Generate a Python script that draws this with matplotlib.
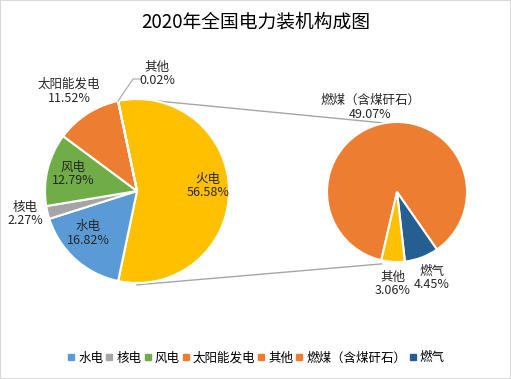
import numpy as np
import matplotlib
matplotlib.use("Agg")
import matplotlib.pyplot as plt
from matplotlib.lines import Line2D
from matplotlib.patches import Rectangle

plt.rcParams['font.family'] = ['Noto Sans CJK SC', 'DejaVu Sans']

# ---- data ----
title = "2020年全国电力装机构成图"
main_labels = ['水电', '核电', '风电', '太阳能发电', '其他', '火电']
main_values = [16.82, 2.27, 12.79, 11.52, 0.02, 56.58]
main_colors = ['#5B9BD5', '#A5A5A5', '#70AD47', '#ED7D31', '#ED7D31', '#FFC000']

sub_labels = ['燃煤（含煤矸石）', '燃气', '其他']
sub_values = [49.07, 4.45, 3.06]
sub_colors = ['#ED7D31', '#255E91', '#FFC000']

legend_labels = ['水电', '核电', '风电', '太阳能发电', '其他', '燃煤（含煤矸石）', '燃气']
legend_colors = ['#5B9BD5', '#A5A5A5', '#70AD47', '#ED7D31', '#ED7D31', '#ED7D31', '#255E91']

# ---- layout (pixel-like coords, y up) ----
W, H = 511, 379
fig = plt.figure(figsize=(W / 100, H / 100), dpi=100)
ax = fig.add_axes([0, 0, 1, 1])

main_c, main_r = (137, 188), 92
sub_c, sub_r = (397, 187), 70

split_idx = main_labels.index('火电')
order = [split_idx] + [i for i in range(len(main_labels)) if i != split_idx]
vals = [main_values[i] for i in order]
cols = [main_colors[i] for i in order]
start = main_values[split_idx] / sum(main_values) * 180.0

ax.pie(vals, colors=cols, center=main_c, radius=main_r, startangle=start,
       counterclock=False, wedgeprops=dict(edgecolor='white', linewidth=1.5))
ax.pie(sub_values, colors=sub_colors, center=sub_c, radius=sub_r, startangle=257,
       counterclock=False, wedgeprops=dict(edgecolor='white', linewidth=1.5))

# connector lines
def pt(c, r, ang):
    a = np.deg2rad(ang)
    return c[0] + r * np.cos(a), c[1] + r * np.sin(a)

p1 = pt(main_c, main_r, 90); q1 = pt(sub_c, sub_r, 100)
p2 = pt(main_c, main_r * 1.02, 270); q2 = pt(sub_c, sub_r * 1.05, 258)
ax.plot([p1[0], q1[0]], [p1[1], q1[1]], color='#A6A6A6', lw=1, zorder=0)
ax.plot([p2[0], q2[0]], [p2[1], q2[1]], color='#A6A6A6', lw=1, zorder=0)

# leader line for tiny 其他
e = pt(main_c, main_r, start)
ax.plot([e[0], 133, 141], [e[1], H - 79, H - 79], color='#A6A6A6', lw=0.8)

# labels (pixel positions, y down -> converted)
label_pos = {
    '火电': (208, 186),
    '水电': (88, 233),
    '核电': (25, 214),
    '风电': (73, 174),
    '太阳能发电': (69, 91),
    '其他': (157, 74),
}
for name, v in zip(main_labels, main_values):
    x, y = label_pos[name]
    ax.text(x, H - y, f"{name}\n{v:.2f}%", ha='center', va='center',
            fontsize=9, linespacing=1.1, color='#262626')

sub_pos = {
    '燃煤（含煤矸石）': (370, 107),
    '燃气': (432, 278),
    '其他': (393, 284),
}
for name, v in zip(sub_labels, sub_values):
    x, y = sub_pos[name]
    ax.text(x, H - y, f"{name}\n{v:.2f}%", ha='center', va='center',
            fontsize=9, linespacing=1.1, color='#262626')

ax.text(W / 2, H - 22, title, ha='center', va='center', fontsize=13.5, color='#000000')

handles = [Line2D([0], [0], marker='s', linestyle='none', markersize=5,
                  markerfacecolor=c, markeredgecolor=c) for c in legend_colors]
ax.legend(handles, legend_labels, loc='center', bbox_to_anchor=(256 / W, 21 / H),
          ncol=7, frameon=False, fontsize=9, handlelength=0.6, handletextpad=0.25,
          columnspacing=0.2, borderpad=0)

ax.set_xlim(0, W)
ax.set_ylim(0, H)
ax.set_aspect('auto')
ax.axis('off')

fig.patches.append(Rectangle((0, 0), 1, 1, transform=fig.transFigure, fill=False,
                             edgecolor='#D9D9D9', linewidth=1.5))
fig.savefig('out.png', dpi=100)
